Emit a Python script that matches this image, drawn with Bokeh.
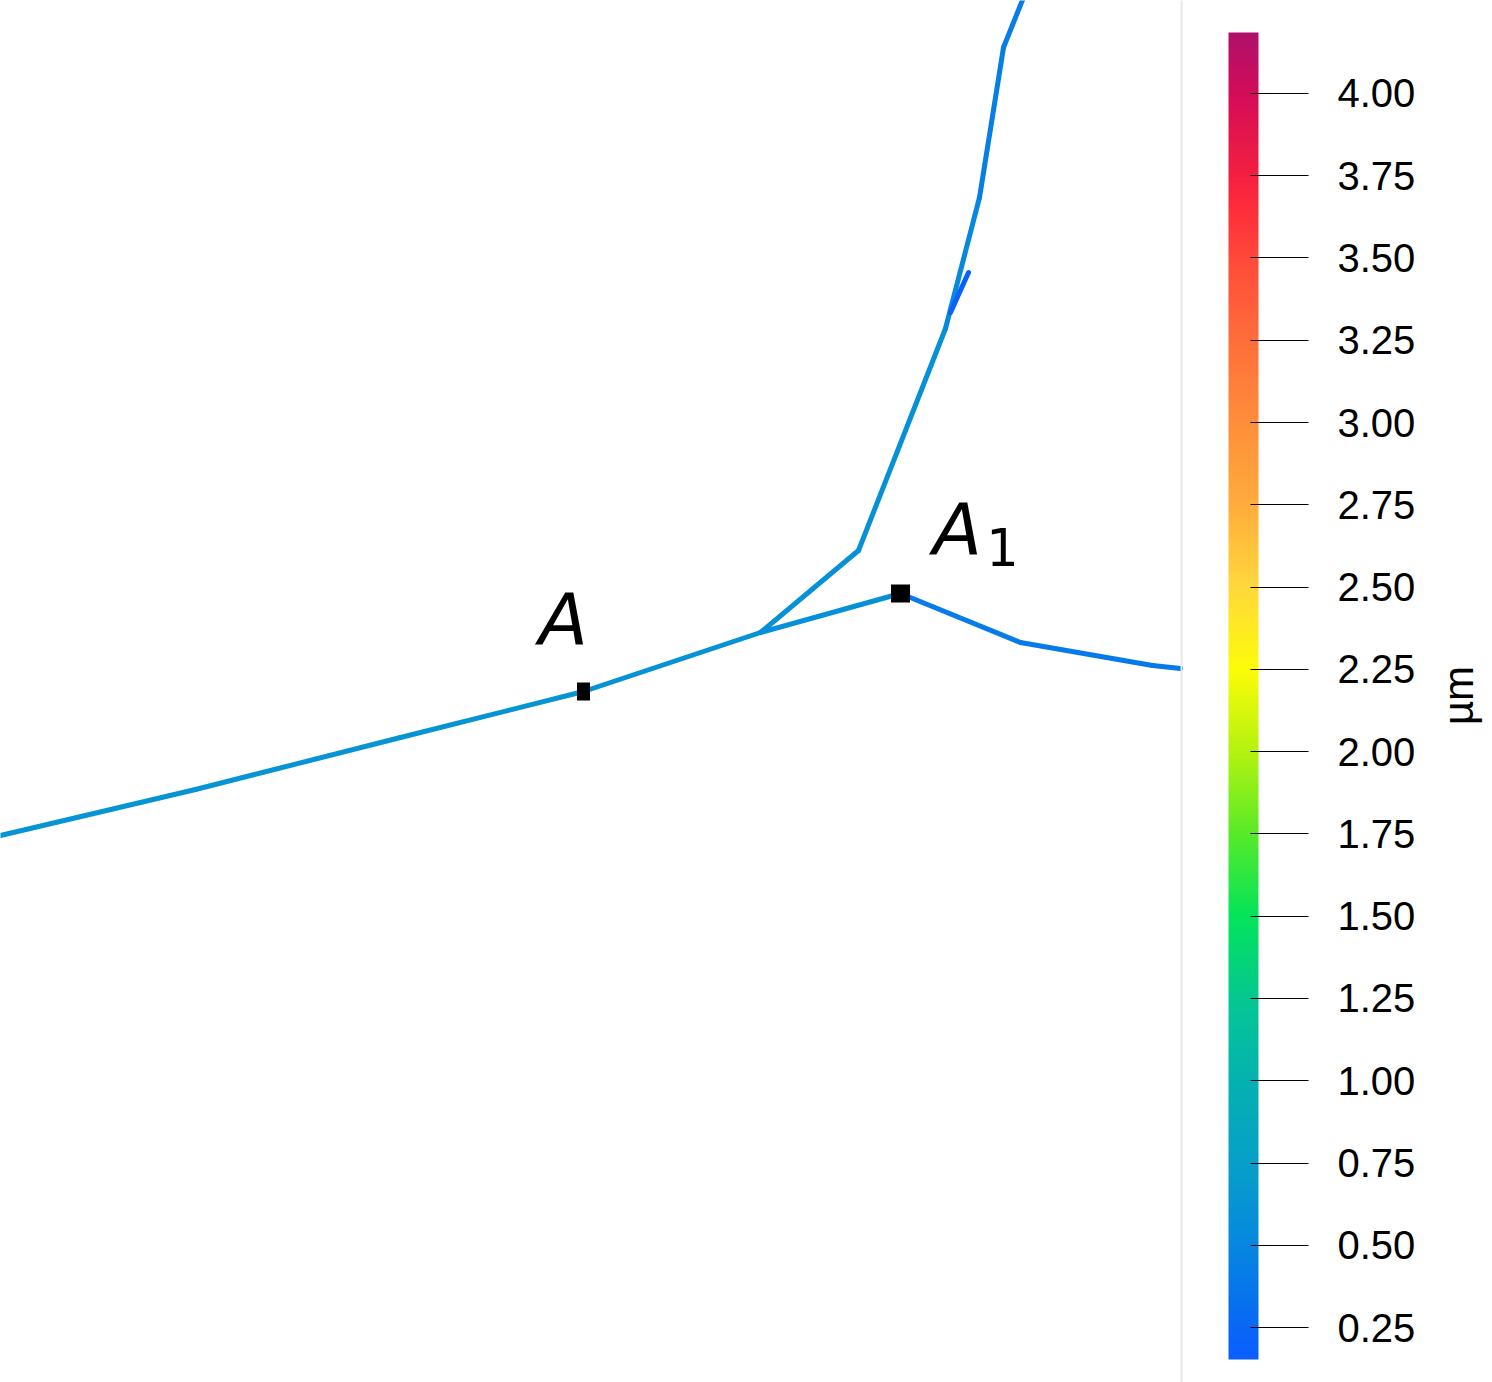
import numpy as np
from math import pi
from bokeh.plotting import figure
from bokeh.models import (ColumnDataSource, LinearColorMapper, ColorBar, FixedTicker,
                          PrintfTickFormatter, Range1d, Label, Span)
from bokeh.transform import transform
from bokeh.embed import file_html
from bokeh.resources import INLINE

# ---------------- data (network geometry, pixel-like units) -------------
seg_x0 = [0, 195, 400, 583, 760, 900, 1020, 1152, 760, 858, 945, 979, 1003, 950]
seg_y0 = [835, 789, 737, 691, 632, 593, 642, 665, 632, 550, 328, 197, 47, 312]
seg_x1 = [195, 400, 583, 760, 900, 1020, 1152, 1180, 858, 945, 979, 1003, 1025, 968]
seg_y1 = [789, 737, 691, 632, 593, 642, 665, 668, 550, 328, 197, 47, -8, 272]
seg_val = [0.64, 0.64, 0.63, 0.62, 0.58, 0.42, 0.40, 0.40, 0.60, 0.58, 0.50, 0.43, 0.43, 0.17]

point_names = ["A", "A1"]
point_x = [583, 900]
point_y = [691, 593]
point_w = [13, 19]
point_h = [18, 18]

cbar_low, cbar_high = 0.153, 4.185
cbar_ticks = [0.25, 0.50, 0.75, 1.00, 1.25, 1.50, 1.75, 2.00, 2.25, 2.50, 2.75, 3.00,
              3.25, 3.50, 3.75, 4.00]
cbar_title = "µm"

# ---------------- palette (style) ----------------
anchors = [
    (0.153, "#0a5fff"), (0.25, "#0868f4"), (0.5, "#0688e0"), (0.75, "#06a0c8"),
    (1.0, "#04b2b0"), (1.25, "#04c890"), (1.5, "#04e45a"), (1.75, "#58ea28"),
    (2.0, "#b4f210"), (2.25, "#fcfc08"), (2.5, "#ffd83c"), (2.75, "#ffac3c"),
    (3.0, "#ff8e3a"), (3.25, "#ff6e3a"), (3.5, "#ff4a3a"), (3.65, "#ff2e3a"),
    (3.75, "#f42040"), (4.0, "#d40c58"), (4.185, "#b0106a"),
]
av = np.array([a[0] for a in anchors])
ac = np.array([[int(h[i:i + 2], 16) for i in (1, 3, 5)] for _, h in anchors], dtype=float)
vals = np.linspace(cbar_low, cbar_high, 256)
palette = []
for v in vals:
    rgb = [np.interp(v, av, ac[:, k]) for k in range(3)]
    palette.append("#%02x%02x%02x" % tuple(int(round(c)) for c in rgb))

mapper = LinearColorMapper(palette=palette, low=cbar_low, high=cbar_high)

# ---------------- figure ----------------
W, H = 1492, 1382
p = figure(width=W, height=H, x_range=Range1d(0, W), y_range=Range1d(H, 0),
           output_backend="svg", toolbar_location=None, min_border=0)
p.axis.visible = False
p.grid.visible = False
p.outline_line_color = None
p.background_fill_color = "white"

src = ColumnDataSource(dict(x0=seg_x0, y0=seg_y0, x1=seg_x1, y1=seg_y1, v=seg_val))
p.segment("x0", "y0", "x1", "y1", source=src, line_width=5,
          line_color=transform("v", mapper), line_cap="round")

psrc = ColumnDataSource(dict(x=point_x, y=point_y, w=point_w, h=point_h, name=point_names))
p.rect("x", "y", "w", "h", source=psrc, fill_color="black", line_color=None)

p.add_layout(Span(location=1181, dimension="height", line_color="#ebe8e5", line_width=2))

lab_font = "DejaVu Sans"
p.add_layout(Label(x=563, y=618, text="A", text_font=lab_font, text_font_style="italic",
                   text_font_size="72px", text_align="center", text_baseline="alphabetic",
                   text_color="black"))
p.add_layout(Label(x=957, y=528, text="A", text_font=lab_font, text_font_style="italic",
                   text_font_size="72px", text_align="center", text_baseline="alphabetic",
                   text_color="black"))
p.add_layout(Label(x=1002, y=546, text="1", text_font=lab_font,
                   text_font_size="51px", text_align="center", text_baseline="alphabetic",
                   text_color="black"))

cb = ColorBar(color_mapper=mapper, ticker=FixedTicker(ticks=cbar_ticks),
              formatter=PrintfTickFormatter(format="%.2f"),
              width=30, height=1327, location=(1228, 23), padding=0,
              major_tick_in=8, major_tick_out=50, major_tick_line_color="black",
              major_tick_line_width=1, minor_tick_line_color=None,
              label_standoff=29, major_label_text_font="Liberation Sans",
              major_label_text_font_size="40px", major_label_text_color="black",
              bar_line_color=None, border_line_color=None, background_fill_color=None)
p.add_layout(cb)

p.add_layout(Label(x=1458, y=695, text=cbar_title, angle=pi / 2, text_font="Liberation Sans",
                   text_font_size="42px", text_align="center", text_baseline="middle",
                   text_color="black"))

open("out.html", "w").write(file_html(p, INLINE))
